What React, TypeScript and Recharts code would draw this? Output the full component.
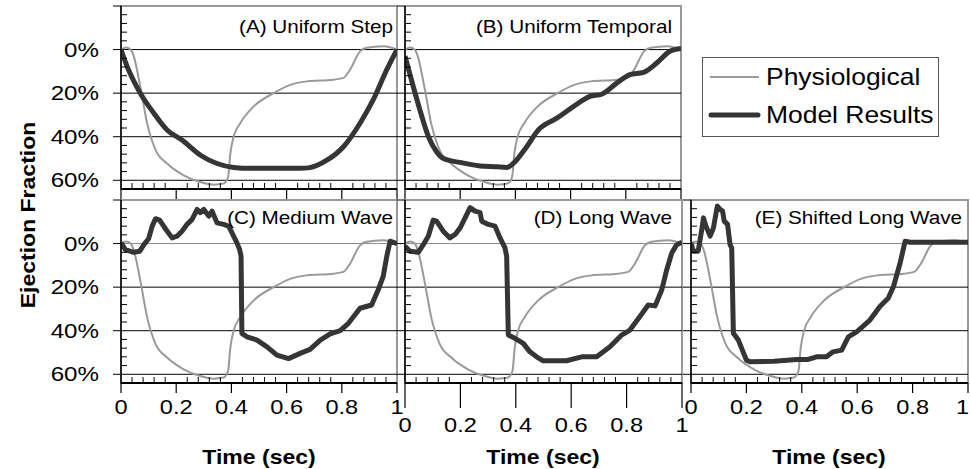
import { LineChart, Line, XAxis, YAxis, ReferenceLine, ReferenceArea } from "recharts";

type Pt = [number, number];

const FONT = "'Liberation Sans', Arial, Helvetica, sans-serif";
const STRETCH = 1.15; // the original glyphs are a bit wide
const PHYSIO_COLOR = "#9a9a9a";
const MODEL_COLOR = "#353535";

// [time (sec), ejection fraction (%)]
const physiological: Pt[] = [
  [0, 0], [0.018, -1], [0.035, 0], [0.046, 3], [0.07, 17], [0.095, 34], [0.125, 46],
  [0.167, 52.3], [0.227, 57.7], [0.287, 60.8], [0.336, 62], [0.372, 61.5], [0.388, 58.5],
  [0.396, 48], [0.408, 40], [0.432, 33.8], [0.48, 26.2], [0.553, 20], [0.613, 16.2],
  [0.673, 14.6], [0.77, 13.8], [0.806, 13], [0.83, 9.2], [0.866, 0.8], [0.89, -0.8],
  [0.95, -1.5], [1, 0],
];

const uniformStep: Pt[] = [
  [0, 0], [0.022, 7.7], [0.07, 20], [0.119, 29.2], [0.167, 36.9], [0.221, 41.5],
  [0.288, 48.5], [0.348, 52.3], [0.408, 54.1], [0.469, 54.5], [0.55, 54.5], [0.649, 54.5],
  [0.679, 54.3], [0.746, 50.8], [0.806, 44.6], [0.866, 33.8], [0.914, 23], [0.963, 9.2], [1, 0],
];

const uniformTemporal: Pt[] = [
  [0, 3], [0.03, 17], [0.054, 27.7], [0.085, 40], [0.115, 47], [0.139, 50], [0.199, 51.8],
  [0.272, 53.4], [0.332, 53.8], [0.368, 54.1], [0.392, 52.3], [0.441, 44.6], [0.483, 36.9],
  [0.55, 31.5], [0.61, 26.2], [0.67, 21.5], [0.713, 20.5], [0.767, 15.4], [0.815, 11.5],
  [0.864, 10.5], [0.912, 6.2], [0.96, 0.8], [1, -0.5],
];

const mediumWave: Pt[] = [
  [0, -0.3], [0.016, 2.8], [0.046, 4], [0.068, 3.5], [0.083, 0.5], [0.1, -2.2], [0.113, -8],
  [0.125, -11.4], [0.14, -10.8], [0.161, -6.8], [0.185, -2.6], [0.203, -3.4], [0.221, -5.7],
  [0.239, -8.8], [0.257, -11], [0.276, -15.7], [0.287, -14.2], [0.3, -15.7], [0.318, -12.6],
  [0.33, -14.9], [0.348, -9.5], [0.372, -8.8], [0.39, -8], [0.408, -3.4], [0.42, -0.3],
  [0.43, 2.8], [0.435, 5.8], [0.438, 41.2], [0.456, 42.8], [0.493, 44.3], [0.529, 47.4],
  [0.565, 51.2], [0.607, 52.8], [0.649, 50.4], [0.685, 48.6], [0.722, 44.3], [0.758, 41.5],
  [0.794, 40], [0.824, 36.6], [0.866, 29.7], [0.908, 28.2], [0.932, 21.2], [0.95, 15.1],
  [0.963, 5.8], [0.975, -1.1], [1, 0],
];

const longWave: Pt[] = [
  [0, 1.2], [0.018, 3.5], [0.048, 4], [0.066, 0.5], [0.084, -3.4], [0.102, -10.8],
  [0.114, -10.3], [0.138, -5.7], [0.162, -2.6], [0.181, -4.2], [0.199, -7.2], [0.217, -11.8],
  [0.235, -16.5], [0.253, -14.9], [0.271, -14.2], [0.277, -10.3], [0.301, -8.8], [0.325, -8],
  [0.343, -2.6], [0.361, 2], [0.367, 5.8], [0.373, 42], [0.397, 43.5], [0.427, 45.8],
  [0.451, 49.7], [0.475, 52], [0.499, 53.8], [0.583, 53.8], [0.638, 52], [0.692, 52],
  [0.74, 47.4], [0.782, 42], [0.812, 39.7], [0.848, 33.5], [0.878, 28.2], [0.903, 28.6],
  [0.927, 21.2], [0.945, 12], [0.963, 4.3], [0.981, 0.5], [1, -0.6],
];

const shiftedLongWave: Pt[] = [
  [0, -0.3], [0.008, 3.5], [0.026, 3.5], [0.039, -6.5], [0.045, -11.8], [0.054, -8],
  [0.069, -3.4], [0.081, -7.2], [0.095, -17.2], [0.105, -15.7], [0.114, -14.9], [0.12, -10.3],
  [0.132, -8.8], [0.141, 0.5], [0.147, 2], [0.153, 41.2], [0.171, 44.3], [0.183, 48.1],
  [0.2, 53.5], [0.213, 54.3], [0.3, 54], [0.381, 53.2], [0.423, 53.2], [0.453, 52],
  [0.489, 52], [0.513, 49.7], [0.544, 48.9], [0.568, 42.8], [0.598, 40.5], [0.646, 35.1],
  [0.682, 28.9], [0.712, 25.1], [0.731, 19.7], [0.755, 8.9], [0.773, -1.1], [0.791, -0.6],
  [1, -0.6],
];

const panelTitles = [
  "(A) Uniform Step",
  "(B) Uniform Temporal",
  "(C) Medium Wave",
  "(D) Long Wave",
  "(E) Shifted Long Wave",
];
const seriesNames = ["Physiological", "Model Results"];
const yTitle = "Ejection Fraction";
const xTitle = "Time (sec)";

const xTicks = Array.from({ length: 26 }, (_, i) => i / 25); // minor every 0.04
const yTicks = Array.from({ length: 22 }, (_, i) => -20 + i * 4); // minor every 4%
const gridValues = [0, 20, 40, 60];

const TOP_PAD = 5;
const PLOT_H = 183;

const toRows = (pts: Pt[]) => pts.map(([t, v]) => ({ t, v }));

type Panel = {
  title: string;
  model: Pt[];
  smooth: boolean;
  left: number;
  top: number;
  yw: number;
  plotW: number;
  rightPad: number;
  xh: number;
  yLabels: boolean;
  xLabelDy: number | null;
  majorLen: number;
  zeroStroke: string;
  titleX: number;
  lastLabelEnd?: boolean;
};

const panels: Panel[] = [
  { title: panelTitles[0], model: uniformStep, smooth: true, left: 0, top: 1, yw: 121, plotW: 276, rightPad: 5, xh: 14, yLabels: true, xLabelDy: null, majorLen: 10, zeroStroke: "#000", titleX: 393 },
  { title: panelTitles[1], model: uniformTemporal, smooth: true, left: 397, top: 1, yw: 8, plotW: 276, rightPad: 5, xh: 14, yLabels: false, xLabelDy: null, majorLen: 10, zeroStroke: "#000", titleX: 672 },
  { title: panelTitles[2], model: mediumWave, smooth: false, left: 0, top: 195, yw: 121, plotW: 276, rightPad: 10, xh: 40, yLabels: true, xLabelDy: 24, majorLen: 10, zeroStroke: "#888", titleX: 393 },
  { title: panelTitles[3], model: longWave, smooth: false, left: 397, top: 195, yw: 8, plotW: 277, rightPad: 8, xh: 60, yLabels: false, xLabelDy: 42, majorLen: 25, zeroStroke: "#888", titleX: 672 },
  { title: panelTitles[4], model: shiftedLongWave, smooth: false, left: 683, top: 195, yw: 8, plotW: 277, rightPad: 2, xh: 40, yLabels: false, xLabelDy: 24, majorLen: 10, zeroStroke: "#888", titleX: 962, lastLabelEnd: true },
];

const SText = ({ x, y, anchor = "start", size, bold = false, rotate = 0, children }: any) => (
  <text
    transform={`translate(${x} ${y})${rotate ? ` rotate(${rotate})` : ""} scale(${STRETCH} 1)`}
    textAnchor={anchor}
    dominantBaseline="central"
    fontFamily={FONT}
    fontSize={size}
    fontWeight={bold ? "bold" : "normal"}
    fill="#000"
  >
    {children}
  </text>
);

const fmtX = (v: number) => (v === 0 ? "0" : v === 1 ? "1" : v.toFixed(1));

const PanelChart = ({ p }: { p: Panel }) => {
  const width = p.yw + p.plotW + p.rightPad;
  const height = TOP_PAD + PLOT_H + p.xh;
  const axisY = TOP_PAD + PLOT_H;

  const xTick = (props: any) => {
    const v = props.payload.value as number;
    const x = props.x as number;
    const major = Math.round(v * 25) % 5 === 0;
    const atEnd = p.lastLabelEnd && v === 1;
    return (
      <g>
        {major ? (
          <line x1={x} x2={x} y1={axisY} y2={axisY + p.majorLen} stroke="#000" strokeWidth={1.2} />
        ) : (
          <line x1={x} x2={x} y1={axisY} y2={axisY - 6} stroke="#000" strokeWidth={1} />
        )}
        {major && p.xLabelDy !== null && (
          <SText x={atEnd ? width - 1 : x} y={axisY + p.xLabelDy} anchor={atEnd ? "end" : "middle"} size={20.5}>
            {fmtX(v)}
          </SText>
        )}
      </g>
    );
  };

  const yTick = (props: any) => {
    const v = props.payload.value as number;
    const y = props.y as number;
    const major = v % 20 === 0;
    return (
      <g>
        {major ? (
          <line x1={p.yw - 8} x2={p.yw} y1={y} y2={y} stroke="#000" strokeWidth={1} />
        ) : (
          <line x1={p.yw} x2={p.yw + 6} y1={y} y2={y} stroke="#000" strokeWidth={1} />
        )}
        {major && v >= 0 && p.yLabels && (
          <SText x={p.yw - 22} y={y} anchor="end" size={21}>
            {`${v}%`}
          </SText>
        )}
      </g>
    );
  };

  return (
    <div style={{ position: "absolute", left: p.left, top: p.top }}>
      <LineChart width={width} height={height} margin={{ top: TOP_PAD, right: p.rightPad, bottom: 0, left: 0 }}>
        <XAxis
          dataKey="t"
          type="number"
          domain={[0, 1]}
          ticks={xTicks}
          interval={0}
          allowDataOverflow
          height={p.xh}
          axisLine={{ stroke: "#000", strokeWidth: 2 }}
          tickLine={false}
          tick={xTick}
        />
        <YAxis
          type="number"
          domain={[-20, 64]}
          reversed
          ticks={yTicks}
          interval={0}
          allowDataOverflow
          width={p.yw}
          axisLine={{ stroke: "#000", strokeWidth: 1.5 }}
          tickLine={false}
          tick={yTick}
        />
        <ReferenceArea x1={0} x2={1} y1={-20} y2={64} fill="none" stroke="#999" strokeWidth={2} fillOpacity={0} />
        {gridValues.map((g) => (
          <ReferenceLine key={g} y={g} stroke={g === 0 ? p.zeroStroke : "#000"} strokeWidth={1} />
        ))}
        <Line
          data={toRows(physiological)}
          dataKey="v"
          name={seriesNames[0]}
          type="monotone"
          stroke={PHYSIO_COLOR}
          strokeWidth={2}
          dot={false}
          isAnimationActive={false}
        />
        <Line
          data={toRows(p.model)}
          dataKey="v"
          name={seriesNames[1]}
          type={p.smooth ? "monotone" : "linear"}
          stroke={MODEL_COLOR}
          strokeWidth={5}
          strokeLinejoin="round"
          dot={false}
          isAnimationActive={false}
        />
      </LineChart>
    </div>
  );
};

export default function App() {
  return (
    <div
      style={{
        position: "absolute",
        left: 0,
        top: 0,
        width: 970,
        height: 469,
        overflow: "hidden",
        background: "#fff",
      }}
    >
      {panels.map((p) => (
        <PanelChart key={p.title} p={p} />
      ))}
      <svg width={970} height={469} style={{ position: "absolute", left: 0, top: 0, pointerEvents: "none" }}>
        {panels.map((p, i) => (
          <SText key={p.title} x={p.titleX} y={i < 2 ? 27 : 218} anchor="end" size={18}>
            {p.title}
          </SText>
        ))}
        <SText x={28} y={215} anchor="middle" size={20} bold rotate={-90}>
          {yTitle}
        </SText>
        {[259, 543, 829].map((x) => (
          <SText key={x} x={x} y={457} anchor="middle" size={20} bold>
            {xTitle}
          </SText>
        ))}
        <rect x={702.5} y={57.5} width={236} height={79} fill="#fff" stroke="#555" strokeWidth={1} />
        <line x1={710} x2={759} y1={77} y2={77} stroke={PHYSIO_COLOR} strokeWidth={2} />
        <line x1={711} x2={758} y1={115} y2={115} stroke={MODEL_COLOR} strokeWidth={5} strokeLinecap="round" />
        <SText x={766} y={77} size={23}>
          {seriesNames[0]}
        </SText>
        <SText x={766} y={115} size={23}>
          {seriesNames[1]}
        </SText>
      </svg>
    </div>
  );
}
